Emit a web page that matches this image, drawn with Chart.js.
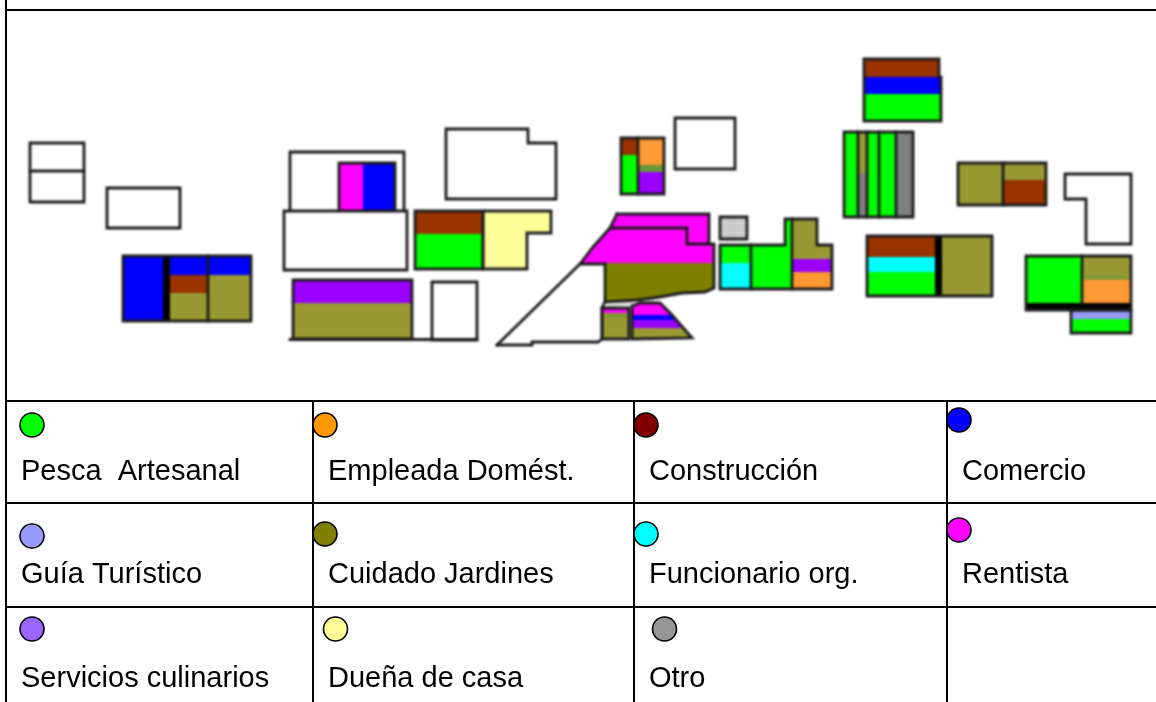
<!DOCTYPE html>
<html>
<head>
<meta charset="utf-8">
<title>Ocupación por parcela</title>
<script src="https://cdn.jsdelivr.net/npm/chart.js@4"></script>
<style>
    html, body { margin: 0; padding: 0; background: #fff; }
    #wrap { position: relative; width: 1156px; height: 702px; overflow: hidden; }
    #wrap canvas { position: absolute; left: 0; top: 0; }
    #mapChart { filter: blur(0.8px); }
</style>
</head>
<body>
<div id="wrap">
    <canvas id="mapChart" width="1156" height="702"></canvas>
    <canvas id="legendChart" width="1156" height="702"></canvas>
</div>
<script>
// --- Legend ---
const categories = [
    'Pesca  Artesanal', 'Empleada Domést.', 'Construcción', 'Comercio',
    'Guía Turístico', 'Cuidado Jardines', 'Funcionario org.', 'Rentista',
    'Servicios culinarios', 'Dueña de casa', 'Otro'
];
const categoryColors = [
    '#00ff00', '#ff9900', '#800000', '#0000ff',
    '#9999ff', '#808000', '#00ffff', '#ff00ff',
    '#9966ff', '#ffff99', '#969696'
];
const dotX = [32, 325, 646, 959, 32, 325, 646, 959, 32, 335.5, 664.5];
const dotY = [425, 425, 425, 420, 536, 534, 534, 530, 629, 629, 629];
const labelX = [21, 328, 649, 962, 21, 328, 649, 962, 21, 328, 649];
const labelY = [480, 480, 480, 480, 583, 583, 583, 583, 687, 687, 687];

// --- Table rules ---
const ruleColumns = [6, 313, 634, 947];
const ruleRows = [10, 401, 503, 607];

// --- Parcel fills, one list per land use ---
const pescaFills = [
    [[415,234],[483,234],[483,269],[415,269]],
    [[621,155],[638,155],[638,194],[621,194]],
    [[720,245],[751,245],[751,263],[720,263]],
    [[751,245],[785,245],[785,219],[792,219],[792,289],[751,289]],
    [[864,94],[941,94],[941,121],[864,121]],
    [[844,132],[858,132],[858,217],[844,217]],
    [[868,132],[878,132],[878,217],[868,217]],
    [[880,132],[895,132],[895,217],[880,217]],
    [[867,272],[935,272],[935,296],[867,296]],
    [[1026,256],[1082,256],[1082,303],[1026,303]],
    [[1071,319],[1131,319],[1131,333],[1071,333]]
];
const naranjaFills = [
    [[638,138],[664,138],[664,165],[638,165]],
    [[792,272],[832,272],[832,289],[792,289]],
    [[1082,280],[1131,280],[1131,303],[1082,303]]
];
const ladrilloFills = [
    [[170,275],[208,275],[208,293],[170,293]],
    [[415,211],[483,211],[483,234],[415,234]],
    [[621,138],[638,138],[638,155],[621,155]],
    [[864,59],[939,59],[939,77],[864,77]],
    [[867,236],[935,236],[935,257],[867,257]],
    [[1003,180],[1046,180],[1046,205],[1003,205]]
];
const comercioFills = [
    [[123,256],[163,256],[163,321],[123,321]],
    [[170,256],[251,256],[251,275],[170,275]],
    [[363,163],[395,163],[395,210],[363,210]],
    [[864,77],[941,77],[941,94],[864,94]],
    [[633,315],[672,315],[677,320],[633,320]]
];
const guiaFills = [
    [[1071,311],[1131,311],[1131,319],[1071,319]]
];
const jardinFills = [
    [[170,293],[208,293],[208,321],[170,321]],
    [[208,275],[251,275],[251,321],[208,321]],
    [[293,303],[412,303],[412,339],[293,339]],
    [[602,313],[629,313],[629,339],[602,339]],
    [[633,328],[684,328],[692,339],[633,339]],
    [[792,219],[817,219],[817,245],[832,245],[832,259],[792,259]],
    [[859,132],[866,132],[866,173],[859,173]],
    [[942,236],[992,236],[992,296],[942,296]],
    [[958,163],[1046,163],[1046,180],[1003,180],[1003,205],[958,205]],
    [[1082,256],[1131,256],[1131,280],[1082,280]]
];
const jardinOscuroFills = [
    [[605,263],[714,263],[714,288],[705,292],[682,293],[660,297],[637,300],[605,302]]
];
const funcionarioFills = [
    [[720,263],[751,263],[751,289],[720,289]],
    [[867,257],[935,257],[935,272],[867,272]]
];
const rentistaFills = [
    [[339,163],[363,163],[363,210],[339,210]],
    [[617,214],[709,214],[709,244],[714,244],[714,263],[580,263],[593,247],[610,228]],
    [[602,308],[629,308],[629,313],[602,313]],
    [[633,306],[640,303],[660,303],[672,315],[633,315]]
];
const culinarioFills = [
    [[293,280],[412,280],[412,303],[293,303]],
    [[638,172],[664,172],[664,194],[638,194]],
    [[633,320],[677,320],[684,328],[633,328]],
    [[792,259],[832,259],[832,272],[792,272]]
];
const duenaFills = [
    [[483,211],[551,211],[551,233],[527,233],[527,269],[483,269]]
];
const otroFills = [
    [[859,173],[866,173],[866,217],[859,217]],
    [[897,132],[913,132],[913,217],[897,217]]
];
const grisClaroFills = [
    [[720,217],[747,217],[747,239],[720,239]],
    [[607,305],[632,302],[632,304],[607,307]],
    [[637,301],[655,300],[655,302],[637,303]]
];
const vetaFills = [
    [[638,165],[664,165],[664,172],[638,172]],
    [[606,315],[627,315],[627,317],[606,317]],
    [[1087,276],[1126,276],[1126,278],[1087,278]]
];
const negroFills = [
    [[163,256],[170,256],[170,321],[163,321]],
    [[935,236],[942,236],[942,296],[935,296]],
    [[1026,303],[1131,303],[1131,310],[1026,310]]
];

// --- Parcel outlines ---
const closedOutlines = [
    [[30,143],[84,143],[84,202],[30,202]],
    [[107,188],[180,188],[180,228],[107,228]],
    [[123,256],[251,256],[251,321],[123,321]],
    [[284,211],[407,211],[407,270],[284,270]],
    [[415,211],[483,211],[483,269],[415,269]],
    [[483,211],[551,211],[551,233],[527,233],[527,269],[483,269]],
    [[446,129],[528,129],[528,143],[556,143],[556,199],[446,199]],
    [[293,280],[412,280],[412,339],[293,339]],
    [[432,282],[477,282],[477,340],[432,340]],
    [[621,138],[664,138],[664,194],[621,194]],
    [[675,118],[735,118],[735,169],[675,169]],
    [[720,217],[747,217],[747,239],[720,239]],
    [[720,245],[785,245],[785,219],[817,219],[817,245],[832,245],[832,289],[720,289]],
    [[602,308],[629,308],[629,339],[602,339]],
    [[632,306],[640,303],[660,303],[672,315],[692,338],[632,339]],
    [[844,132],[913,132],[913,217],[844,217]],
    [[958,163],[1046,163],[1046,205],[958,205]],
    [[1065,174],[1131,174],[1131,244],[1086,244],[1086,199],[1065,199]],
    [[867,236],[992,236],[992,296],[867,296]],
    [[1026,256],[1131,256],[1131,310],[1026,310]],
    [[1071,310],[1131,310],[1131,333],[1071,333]]
];
const openOutlines = [
    [[290,210],[290,152],[404,152],[404,210]],
    [[339,210],[339,163],[395,163],[395,210]],
    [[617,214],[709,214],[709,244]],
    [[610,228],[687,228],[687,244],[714,244],[714,288],[705,292],[682,293],[660,297],[637,300],[605,302],[605,264],[580,264],[593,247],[610,228],[617,214]],
    [[497,345],[532,345],[532,342],[598,342],[602,339],[602,308],[605,302]],
    [[497,345],[580,264]],
    [[864,121],[864,59],[939,59],[939,77],[941,77],[941,121],[864,121]],
    [[30,171],[84,171]],
    [[208,256],[208,321]],
    [[290,339.5],[477,339.5]],
    [[638,138],[638,194]],
    [[751,245],[751,289]],
    [[792,219],[792,289]],
    [[858,132],[858,217]],
    [[867,132],[867,217]],
    [[879,132],[879,217]],
    [[896,132],[896,217]],
    [[1003,163],[1003,205]],
    [[1082,256],[1082,303]]
];

// first in the list ends up on top
const mapGroups = [
    [negroFills, '#000000'], [vetaFills, '#669933'], [grisClaroFills, '#cccccc'],
    [pescaFills, '#00ff00'], [naranjaFills, '#ff9933'], [ladrilloFills, '#993300'],
    [comercioFills, '#0000ff'], [guiaFills, '#9999ff'], [jardinFills, '#999933'],
    [jardinOscuroFills, '#808000'], [funcionarioFills, '#00ffff'], [rentistaFills, '#ff00ff'],
    [culinarioFills, '#9900ff'], [duenaFills, '#ffff99'], [otroFills, '#808080']
];

const toPoints = poly => poly.map(([x, y]) => ({ x, y }));

const baseOptions = {
    responsive: false,
    animation: false,
    layout: { padding: 0, autoPadding: false },
    scales: {
        x: { type: 'linear', min: 0, max: 1156, display: false },
        y: { type: 'linear', min: 0, max: 702, reverse: true, display: false }
    },
    plugins: { legend: { display: false }, tooltip: { enabled: false } }
};

function strokeDataset(poly, closed, width, cap, color) {
    const pts = toPoints(poly);
    if (closed) pts.push(pts[0]);
    return {
        data: pts,
        showLine: true,
        fill: false,
        pointRadius: 0,
        borderColor: color,
        borderWidth: width,
        borderJoinStyle: 'miter',
        borderCapStyle: cap,
        clip: false
    };
}

// first dataset is painted last, so the outlines go in front of the fills
const mapDatasets = [];
closedOutlines.forEach(poly => mapDatasets.push(strokeDataset(poly, true, 2.8, 'square', '#1a1a1a')));
openOutlines.forEach(poly => mapDatasets.push(strokeDataset(poly, false, 2.8, 'square', '#1a1a1a')));
mapGroups.forEach(([polys, color]) => {
    polys.forEach(poly => {
        mapDatasets.push({
            data: toPoints(poly),
            showLine: true,
            fill: 'shape',
            backgroundColor: color,
            borderWidth: 0,
            pointRadius: 0,
            clip: false
        });
    });
});

new Chart(document.getElementById('mapChart'), {
    type: 'scatter',
    data: { datasets: mapDatasets },
    options: baseOptions
});

// --- Table rules, legend dots and labels ---
const legendDatasets = [{
    data: dotX.map((x, i) => ({ x, y: dotY[i] })),
    pointRadius: 12,
    pointBackgroundColor: categoryColors,
    pointBorderColor: '#000',
    pointBorderWidth: 1.6,
    clip: false
}];
ruleColumns.forEach((x, i) => {
    const top = i === 0 ? 0 : ruleRows[1];
    legendDatasets.push(strokeDataset([[x, top], [x, 702]], false, 2, 'butt', '#000'));
});
ruleRows.forEach(y => legendDatasets.push(strokeDataset([[ruleColumns[0], y], [1156, y]], false, 2, 'butt', '#000')));

const legendLabelsPlugin = {
    id: 'legendLabels',
    afterDatasetsDraw(chart) {
        const { ctx, scales } = chart;
        ctx.save();
        ctx.fillStyle = '#000';
        ctx.font = '29px "Liberation Sans", Arial, sans-serif';
        ctx.textBaseline = 'alphabetic';
        categories.forEach((label, i) => {
            ctx.fillText(label, scales.x.getPixelForValue(labelX[i]), scales.y.getPixelForValue(labelY[i]));
        });
        ctx.restore();
    }
};

new Chart(document.getElementById('legendChart'), {
    type: 'scatter',
    data: { datasets: legendDatasets },
    options: baseOptions,
    plugins: [legendLabelsPlugin]
});
</script>
</body>
</html>
